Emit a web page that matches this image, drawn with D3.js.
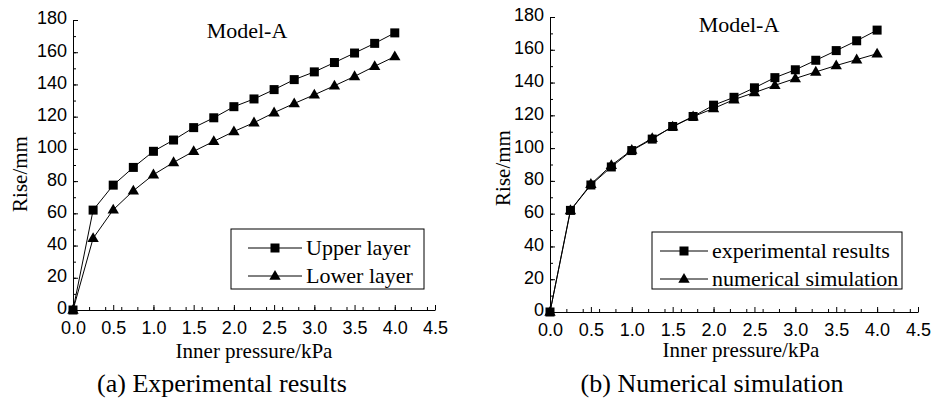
<!DOCTYPE html>
<html>
<head>
<meta charset="utf-8">
<script src="https://cdn.jsdelivr.net/npm/d3@7"></script>
<style>
  body { margin: 0; background: #fff; }
  svg { display: block; }
</style>
</head>
<body>
<div id="chart"></div>
<script>
// data
const pressure = [0, 0.25, 0.5, 0.75, 1.0, 1.25, 1.5, 1.75, 2.0, 2.25, 2.5, 2.75, 3.0, 3.25, 3.5, 3.75, 4.0];
const upperLayer = [0, 62, 77.5, 88.5, 98.5, 105.5, 113.2, 119.3, 126.2, 131, 136.8, 143, 147.8, 153.6, 159.5, 165.5, 172];
const lowerLayer = [0, 44.5, 62.2, 74, 84, 91.6, 98.5, 104.7, 110.8, 116.3, 122.5, 128.2, 133.6, 139.2, 145, 151.3, 157.3];
const simulation = [0, 62, 78, 89.5, 98.8, 106, 113, 119.2, 124.2, 129.6, 133.9, 138.3, 142.5, 146.5, 150.4, 154, 157.6];
const xTicks = [0, 0.5, 1.0, 1.5, 2.0, 2.5, 3.0, 3.5, 4.0, 4.5];
const yTicks = [0, 20, 40, 60, 80, 100, 120, 140, 160, 180];

const serif = "'Liberation Serif', 'Times New Roman', serif";
const sans = "'Liberation Sans', Arial, sans-serif";

const svg = d3.select("#chart")
  .append("svg")
  .attr("width", 931)
  .attr("height", 401);

// panel settings
const panels = [
  {
    left: 73, right: 435, top: 20, bottom: 310,
    series: [
      { name: "Upper layer", values: upperLayer, shape: "square" },
      { name: "Lower layer", values: lowerLayer, shape: "triangle" },
    ],
    legend: { x: 231, y: 229, w: 193, h: 60, lineX: [248, 302], textX: 306 },
    titleX: 247, titleY: 38,
    yLabel: { x: 27, y: 174 },
    xLabel: { x: 254, y: 358 },
    caption: { x: 222, y: 392, text: "(a) Experimental results" },
  },
  {
    left: 550, right: 918, top: 17, bottom: 312,
    series: [
      { name: "experimental results", values: upperLayer, shape: "square" },
      { name: "numerical simulation", values: simulation, shape: "triangle" },
    ],
    legend: { x: 652, y: 232, w: 250, h: 57, lineX: [660, 708], textX: 712 },
    titleX: 739, titleY: 32,
    yLabel: { x: 510, y: 168 },
    xLabel: { x: 741, y: 357 },
    caption: { x: 712, y: 392, text: "(b) Numerical simulation" },
  },
];

const drawMarker = (g, shape, cx, cy) => {
  if (shape === "square") {
    g.append("rect")
      .attr("x", cx - 4.5)
      .attr("y", cy - 4.5)
      .attr("width", 9)
      .attr("height", 9)
      .attr("fill", "#000");
  } else {
    g.append("path")
      .attr("d", d3.symbol().type(d3.symbolTriangle).size(56)())
      .attr("transform", `translate(${cx}, ${cy + 0.5})`)
      .attr("fill", "#000");
  }
};

panels.forEach((p) => {
  const x = d3.scaleLinear().domain([0, 4.5]).range([p.left, p.right]);
  const y = d3.scaleLinear().domain([0, 180]).range([p.bottom, p.top]);

  // minor ticks
  svg.append("g")
    .attr("transform", `translate(0, ${p.bottom})`)
    .call(d3.axisBottom(x).ticks(18).tickSize(-3).tickSizeOuter(0).tickFormat(""))
    .call((g) => g.select(".domain").remove());
  svg.append("g")
    .attr("transform", `translate(${p.left}, 0)`)
    .call(d3.axisLeft(y).ticks(18).tickSize(-3).tickSizeOuter(0).tickFormat(""))
    .call((g) => g.select(".domain").remove());

  // x axis
  svg.append("g")
    .attr("transform", `translate(0, ${p.bottom})`)
    .call(d3.axisBottom(x).tickValues(xTicks).tickSize(-5).tickSizeOuter(0)
      .tickPadding(11).tickFormat(d3.format(".1f")))
    .call((g) => g.selectAll("text").attr("font-family", sans).attr("font-size", 18).attr("fill", "#000"));

  // y axis
  svg.append("g")
    .attr("transform", `translate(${p.left}, 0)`)
    .call(d3.axisLeft(y).tickValues(yTicks).tickSize(-5).tickSizeOuter(0)
      .tickPadding(6).tickFormat(d3.format("d")))
    .call((g) => g.selectAll("text")
      .attr("font-family", sans)
      .attr("font-size", 18)
      .attr("dy", "0.22em")
      .attr("fill", "#000"));

  // lines and markers
  const line = d3.line()
    .x((d, i) => x(pressure[i]))
    .y((d) => y(d));

  p.series.forEach((s) => {
    svg.append("path")
      .datum(s.values)
      .attr("d", line)
      .attr("fill", "none")
      .attr("stroke", "#000")
      .attr("stroke-width", 1);
    const mg = svg.append("g");
    s.values.forEach((v, i) => drawMarker(mg, s.shape, x(pressure[i]), y(v)));
  });

  // legend
  const L = p.legend;
  svg.append("rect")
    .attr("x", L.x)
    .attr("y", L.y)
    .attr("width", L.w)
    .attr("height", L.h)
    .attr("fill", "#fff")
    .attr("stroke", "#000")
    .attr("stroke-width", 1);
  p.series.forEach((s, i) => {
    const ry = L.y + 19 + i * 28;
    svg.append("line")
      .attr("x1", L.lineX[0])
      .attr("x2", L.lineX[1])
      .attr("y1", ry)
      .attr("y2", ry)
      .attr("stroke", "#000");
    drawMarker(svg, s.shape, (L.lineX[0] + L.lineX[1]) / 2, ry);
    svg.append("text")
      .attr("x", L.textX)
      .attr("y", ry + 7)
      .attr("font-family", serif)
      .attr("font-size", 22)
      .text(s.name);
  });

  // title
  svg.append("text")
    .attr("x", p.titleX)
    .attr("y", p.titleY)
    .attr("text-anchor", "middle")
    .attr("font-family", serif)
    .attr("font-size", 22)
    .text("Model-A");

  // axis labels
  svg.append("text")
    .attr("transform", `translate(${p.yLabel.x}, ${p.yLabel.y}) rotate(-90)`)
    .attr("text-anchor", "middle")
    .attr("font-family", serif)
    .attr("font-size", 21)
    .text("Rise/mm");

  svg.append("text")
    .attr("x", p.xLabel.x)
    .attr("y", p.xLabel.y)
    .attr("text-anchor", "middle")
    .attr("font-family", serif)
    .attr("font-size", 21)
    .text("Inner pressure/kPa");

  // caption
  svg.append("text")
    .attr("x", p.caption.x)
    .attr("y", p.caption.y)
    .attr("text-anchor", "middle")
    .attr("font-family", serif)
    .attr("font-size", 26)
    .text(p.caption.text);
});
</script>
</body>
</html>
